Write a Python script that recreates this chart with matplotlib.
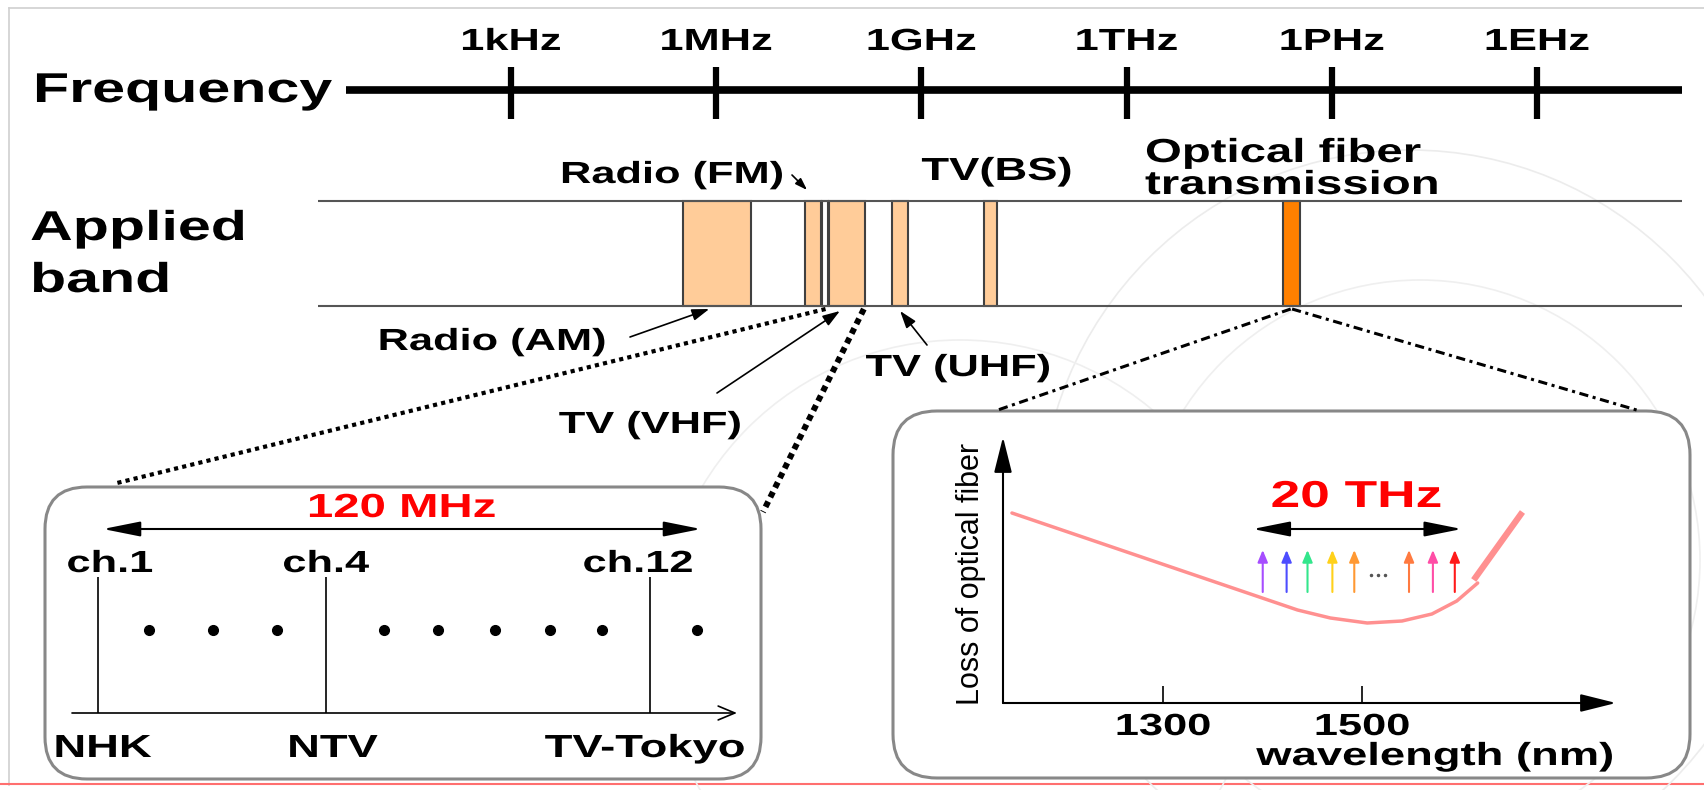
import matplotlib
matplotlib.use("Agg")
import matplotlib.pyplot as plt
import matplotlib.patheffects as pe
from matplotlib.patches import FancyBboxPatch, ConnectionPatch, Circle
from matplotlib.transforms import Affine2D, blended_transform_factory

plt.rcParams["font.family"] = ["Liberation Sans", "DejaVu Sans"]

W, H = 1704, 790
STRETCH = 1.42  # the slide text is drawn wide

# frequency axis, log10 of Hz
freq_ticks = [3, 6, 9, 12, 15, 18]
freq_labels = ["1kHz", "1MHz", "1GHz", "1THz", "1PHz", "1EHz"]

# applied bands, edges in log10 Hz
band_lo = [5.52, 7.30, 7.55, 7.65, 8.57, 9.91, 14.29]
band_hi = [6.51, 7.54, 7.64, 8.18, 8.81, 10.11, 14.54]
band_kind = ["radio", "radio", "gap", "tv", "tv", "tv", "optical"]

# terrestrial TV channels (schematic positions in the left box)
ch_labels = ["ch.1", "ch.4", "ch.12"]
ch_pos = [98, 326, 650]
station_labels = ["NHK", "NTV", "TV-Tokyo"]
other_ch_pos = [149, 213, 277, 384, 438, 495, 550, 602, 697]

# fiber loss (wavelength in nm, loss in arbitrary units)
loss_wl = [1148, 1435, 1468, 1505, 1540, 1570, 1595, 1616]
loss_val = [1.90, 0.93, 0.85, 0.80, 0.82, 0.89, 1.02, 1.20]
ir_wl = [1612, 1661]
ir_val = [1.23, 1.91]
wdm_wl = [1400, 1424, 1445, 1470, 1492, 1547, 1571, 1593]
wl_ticks = [1300, 1500]


class Stretch(pe.AbstractPathEffect):
    def __init__(self, sx, ha="left"):
        super().__init__()
        self.sx, self.ha = sx, ha

    def draw_path(self, renderer, gc, tpath, affine, rgbFace=None):
        ext = tpath.get_extents()
        cx = {"left": 0, "center": (ext.x0 + ext.x1) / 2, "right": ext.x1}[self.ha]
        st = Affine2D().translate(-cx, 0).scale(self.sx, 1).translate(cx, 0)
        renderer.draw_path(gc, tpath, st + affine, rgbFace)


def put(axis, x, y, s, size, ha="center", color="black", **kw):
    axis.text(x, y, s, fontsize=size, fontweight="bold", ha=ha, va="baseline",
              color=color, path_effects=[Stretch(STRETCH, ha)], **kw)


fig = plt.figure(figsize=(W / 100, H / 100), dpi=100)
ax = fig.add_axes([0, 0, 1, 1])
ax.set_xlim(0, W)
ax.set_ylim(H, 0)
ax.axis("off")

# page frame and faint background logo
ax.plot([9, W], [8, 8], color="#d0d0d0", lw=1.2, zorder=0)
ax.plot([9, 9], [8, 785], color="#d0d0d0", lw=1.2, zorder=0)
ax.plot([0, W], [784, 784], color="#ff6f6f", lw=1.5, zorder=0)
ax.add_patch(Circle((1410, 520), 370, fill=False, ec="#ececec", lw=1.2, zorder=0))
ax.add_patch(Circle((1420, 560), 280, fill=False, ec="#efefef", lw=1.2, zorder=0))
ax.add_patch(Circle((960, 640), 300, fill=False, ec="#efefef", lw=1.2, zorder=0))

put(ax, 33, 102, "Frequency", 30, ha="left")
put(ax, 30, 240, "Applied", 30, ha="left")
put(ax, 30, 292, "band", 30, ha="left")

# frequency scale
axf = fig.add_axes([346 / W, 0, (1682 - 346) / W, 1])
f0, f1 = 0.59, 20.12
axf.set_xlim(f0, f1)
axf.set_ylim(H, 0)
axf.axis("off")
axf.plot([f0, f1], [90, 90], color="black", lw=5.5, solid_capstyle="butt")
axf.vlines(freq_ticks, 67, 119, color="black", lw=4.5)
for f, s in zip(freq_ticks, freq_labels):
    put(axf, f, 50, s, 22)

axf.hlines([201, 306], 0.18, f1, color="#555555", lw=1.5, clip_on=False)
fills = {"radio": "#ffcc99", "tv": "#ffcc99", "gap": "white", "optical": "#ff8000"}
axf.bar(band_lo, 105, width=[h - l for l, h in zip(band_lo, band_hi)], bottom=201,
        align="edge", color=[fills[k] for k in band_kind], edgecolor="#404040",
        lw=1.5, clip_on=False)

put(ax, 672, 183, "Radio (FM)", 22)
put(ax, 997, 180, "TV(BS)", 23)
put(ax, 1145, 162, "Optical fiber", 24, ha="left")
put(ax, 1145, 194, "transmission", 24, ha="left")
put(ax, 492, 350, "Radio (AM)", 22)
put(ax, 650, 433, "TV (VHF)", 22)
put(ax, 958, 376, "TV (UHF)", 22)

pointer = dict(arrowstyle="-|>,head_length=0.65,head_width=0.22", color="black",
               lw=1.2, mutation_scale=16, shrinkA=0, shrinkB=0)
for f, y, tx, ty in [(5.90, 309, 630, 337), (7.81, 311, 717, 393), (8.69, 311, 927, 345)]:
    axf.annotate("", xy=(f, y), xytext=(tx, ty), textcoords=ax.transData, arrowprops=pointer)
axf.annotate("", xy=(7.33, 190), xytext=(792, 175), textcoords=ax.transData,
             arrowprops=dict(pointer, mutation_scale=11))

# zoom lines towards the two boxes
for f, corner, ls, lw in [(7.60, (117, 483), (0, (1, 1.0)), 3.0),
                          (8.16, (763, 512), (0, (1, 0.8)), 4.3),
                          (14.40, (995, 411), (0, (3, 1.5, 1, 1.5)), 2.2),
                          (14.42, (1640, 411), (0, (3, 1.5, 1, 1.5)), 2.2)]:
    fig.add_artist(ConnectionPatch(xyA=(f, 309), coordsA=axf.transData, xyB=corner,
                                   coordsB=ax.transData, color="black", ls=ls, lw=lw,
                                   capstyle="butt"))

# left box: VHF channels
ax.add_patch(FancyBboxPatch((45, 487), 716, 292, boxstyle="round,pad=0,rounding_size=42",
                            fc="white", ec="#888888", lw=2.2, zorder=1))
ax.annotate("", xy=(701, 529), xytext=(103, 529),
            arrowprops=dict(arrowstyle="<|-|>,head_length=1.15,head_width=0.23", color="black",
                            lw=1.5, mutation_scale=20, shrinkA=0, shrinkB=0))
put(ax, 402, 517, "120 MHz", 24, color="#ff0000")
ax.vlines(ch_pos, 577, 713, color="black", lw=1.2, zorder=2)
ax.annotate("", xy=(737, 713), xytext=(72, 713),
            arrowprops=dict(arrowstyle="->,head_length=0.6,head_width=0.25", color="black",
                            lw=1.2, mutation_scale=20, shrinkA=0, shrinkB=0))
ax.plot(other_ch_pos, [630] * len(other_ch_pos), "o", ms=7, color="black", zorder=2)
for x, dx, s in zip(ch_pos, [12, 0, -12], ch_labels):
    put(ax, x + dx, 572, s, 22)
for x, dx, s in zip(ch_pos, [5, 7, -5], station_labels):
    put(ax, x + dx, 757, s, 23)

# right box: fiber loss
ax.add_patch(FancyBboxPatch((893, 411), 797, 367, boxstyle="round,pad=0,rounding_size=44",
                            fc="white", ec="#888888", lw=2.2, zorder=1))
axl = fig.add_axes([1003 / W, 1 - 703 / H, (1616 - 1003) / W, (703 - 437) / H])
axl.set_xlim(1139, 1755)
axl.set_ylim(0, 2.66)
axl.axis("off")
axis_arrow = dict(arrowstyle="-|>,head_length=1.0,head_width=0.25", color="black",
                  lw=1.5, mutation_scale=22, shrinkA=0, shrinkB=0)
axl.annotate("", xy=(1755, 0), xytext=(1139, 0), arrowprops=axis_arrow, annotation_clip=False)
axl.annotate("", xy=(1139, 2.66), xytext=(1139, 0), arrowprops=axis_arrow, annotation_clip=False)
axl.vlines(wl_ticks, 0, 0.17, color="black", lw=1.2)

axl.plot(loss_wl, loss_val, color="#ff9090", lw=2.5, solid_capstyle="round")
axl.plot(ir_wl, ir_val, color="#ff9090", lw=4.5, solid_capstyle="butt")

wdm_colors = ["#a64dff", "#4d4dff", "#33e68c", "#ffd11a", "#ff9933", "#ff7a40", "#ff4da6", "#ff1a1a"]
for wl, c in zip(wdm_wl, wdm_colors):
    axl.annotate("", xy=(wl, 1.53), xytext=(wl, 1.11),
                 arrowprops=dict(arrowstyle="-|>,head_length=0.6,head_width=0.25", color=c,
                                 lw=1.5, mutation_scale=12, shrinkA=0, shrinkB=0))
axl.plot([1509, 1516, 1523], [1.28] * 3, ls="none", marker=".", ms=3, color="#555555")
axl.annotate("", xy=(1390, 1.74), xytext=(1600, 1.74),
             arrowprops=dict(arrowstyle="<|-|>,head_length=1.15,head_width=0.23", color="black",
                             lw=1.5, mutation_scale=20, shrinkA=0, shrinkB=0))
put(axl, 1494, 1.96, "20 THz", 27, color="#ff0000")

bt = blended_transform_factory(axl.transData, ax.transData)
for wl in wl_ticks:
    put(ax, wl, 735, str(wl), 22, transform=bt)
put(ax, 1614, 765, "wavelength (nm)", 23, ha="right")
ax.text(971, 574, "Loss of optical fiber", rotation=90, ha="center", va="center", fontsize=22)

fig.savefig("out.png", dpi=100)
